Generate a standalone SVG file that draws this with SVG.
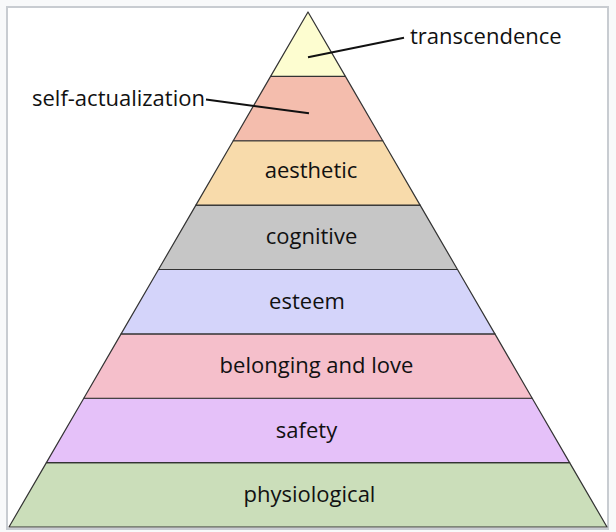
<svg xmlns="http://www.w3.org/2000/svg" width="616" height="532" viewBox="0 0 616 532">
<style>
.band{stroke:#333;stroke-width:1.2;stroke-linejoin:round}
.lbl{font-family:"Open Sans","Noto Sans","Liberation Sans",sans-serif;font-size:22px;fill:#111;text-anchor:middle}
.side{font-family:"Open Sans","Noto Sans","Liberation Sans",sans-serif;font-size:22px;fill:#111}
.lead{stroke:#111;stroke-width:2;fill:none}
</style>
<rect x="0" y="0" width="616" height="532" fill="#f8f9fa"/>
<rect x="7" y="7" width="601" height="522" fill="#fff" stroke="#c8ccd1" stroke-width="2"/>
<g id="physiological">
<polygon class="band" fill="#cbdeba" points="46.4,462.6 569.6,462.6 607,527 9,527"/>
<text class="lbl" x="309.5" y="502">physiological</text>
</g>
<g id="safety">
<polygon class="band" fill="#e5c1f9" points="83.8,398.25 532.2,398.25 569.6,462.6 46.4,462.6"/>
<text class="lbl" x="306.5" y="437.5">safety</text>
</g>
<g id="belonging">
<polygon class="band" fill="#f5bfcb" points="121.1,333.9 494.9,333.9 532.2,398.25 83.8,398.25"/>
<text class="lbl" x="316.5" y="373">belonging and love</text>
</g>
<g id="esteem">
<polygon class="band" fill="#d4d4fa" points="158.5,269.5 457.5,269.5 494.9,333.9 121.1,333.9"/>
<text class="lbl" x="307" y="309">esteem</text>
</g>
<g id="cognitive">
<polygon class="band" fill="#c6c6c6" points="195.9,205.1 420.1,205.1 457.5,269.5 158.5,269.5"/>
<text class="lbl" x="311.5" y="244">cognitive</text>
</g>
<g id="aesthetic">
<polygon class="band" fill="#f8dbab" points="233.25,140.75 382.75,140.75 420.1,205.1 195.9,205.1"/>
<text class="lbl" x="311" y="178">aesthetic</text>
</g>
<g id="self-actualization">
<polygon class="band" fill="#f4bdad" points="270.6,76.4 345.4,76.4 382.75,140.75 233.25,140.75"/>
<text class="side" x="32" y="106">self-actualization</text>
</g>
<g id="transcendence">
<polygon class="band" fill="#fdfdd0" points="308,12 345.4,76.4 270.6,76.4"/>
<text class="side" x="410" y="44">transcendence</text>
</g>
<g id="connectors">
<line class="lead" x1="206" y1="99.5" x2="309" y2="113.3"/>
<line class="lead" x1="404" y1="37.7" x2="308" y2="57.3"/>
</g>
</svg>
